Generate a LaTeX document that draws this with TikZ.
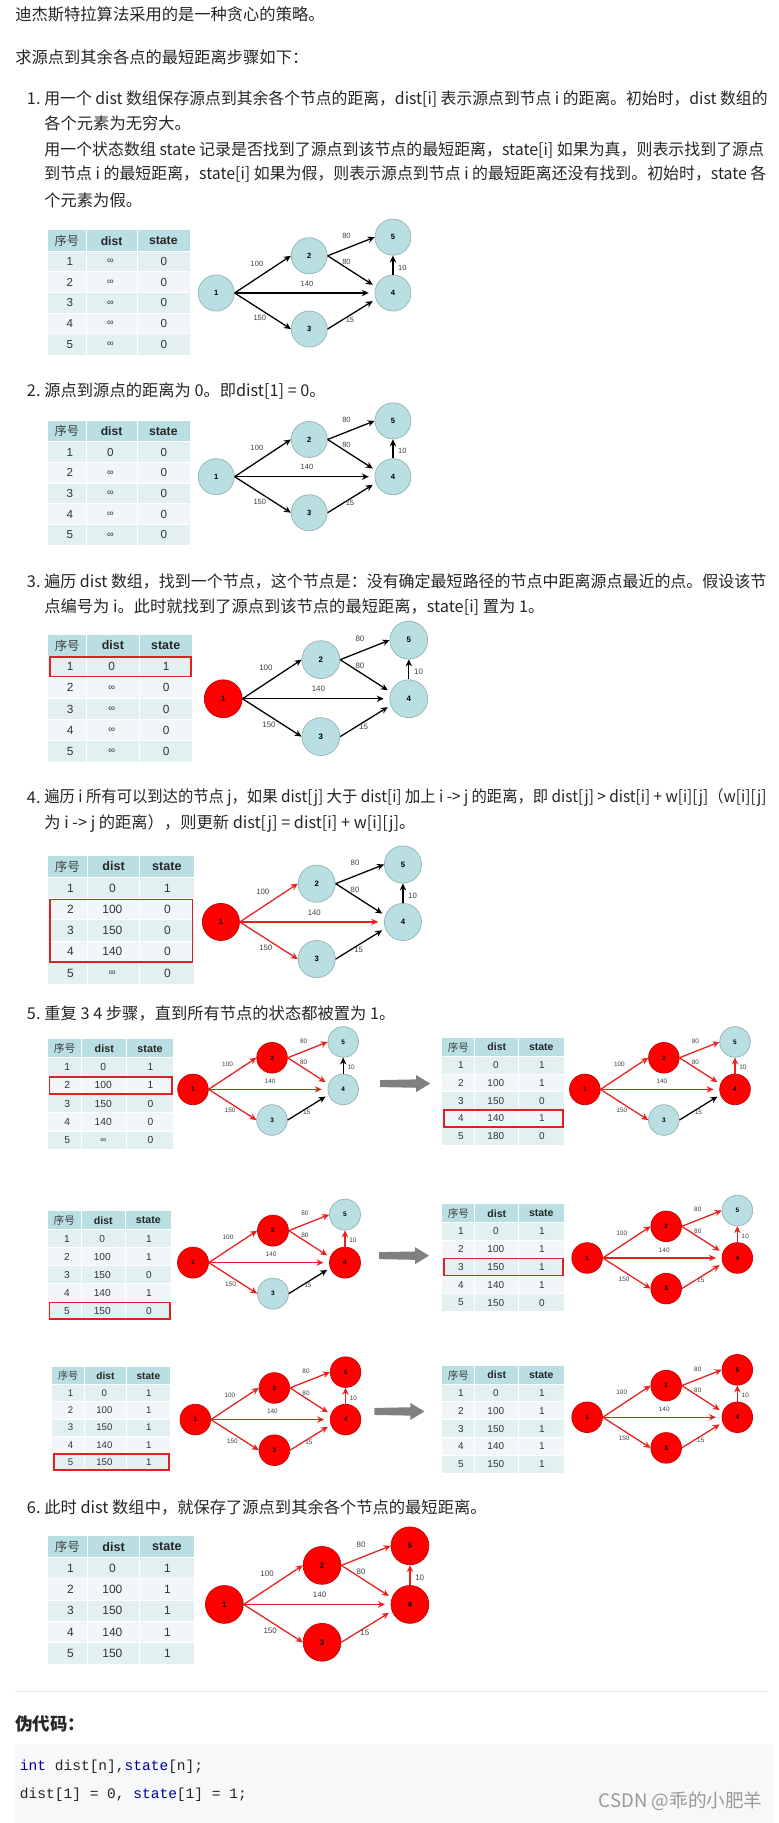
\documentclass[tikz,border=0pt]{standalone}
\usepackage{fontspec}
\usepackage{graphicx}
\newfontfamily\cjk{Noto Sans CJK SC}
\newfontfamily\arial{Liberation Sans}
\newfontfamily\mono{Liberation Mono}
\usetikzlibrary{arrows.meta,calc}

\definecolor{vopen}{HTML}{B9DFE2}
\definecolor{vdone}{HTML}{FF0000}
\definecolor{ered}{HTML}{E8201E}
\definecolor{hdr}{HTML}{BADFE3}
\definecolor{rowa}{HTML}{E3F0F2}
\definecolor{rowb}{HTML}{F1F7F8}
\definecolor{boxred}{HTML}{DD2222}
\definecolor{codebg}{HTML}{F6F8FA}
\definecolor{kw}{HTML}{0000A0}

\tikzset{
  txt/.style={anchor=west, inner sep=0pt, font=\cjk\fontsize{14}{16}\selectfont, text=black!85},
  vtx/.style={circle, minimum size=31pt, inner sep=0pt, line width=.6pt,
    font=\arial\bfseries\fontsize{6.5}{7}\selectfont},
  wedge/.style={line width=1.1pt, -{Stealth[length=6pt,width=5.5pt]}},
  elbl/.style={inner sep=0pt, font=\arial\fontsize{6.5}{7}\selectfont, text=black!75},
  thd/.style={inner sep=0pt, font=\cjk\fontsize{10.5}{12}\selectfont, text=black!75},
  thb/.style={inner sep=0pt, font=\arial\bfseries\fontsize{10.5}{12}\selectfont, text=black!85},
  tcell/.style={inner sep=0pt, font=\arial\fontsize{10}{12}\selectfont, text=black!80},
}

% squeeze a long line to the width it has in the article
\newcommand{\fitline}[2]{\resizebox{#1pt}{\height}{#2}}

% node and edge colours for each step
\newcommand{\setstage}[1]{%
  \ifnum#1<1 \def\fA{vopen}\else\def\fA{vdone}\fi
  \ifnum#1<3 \def\fB{vopen}\else\def\fB{vdone}\fi
  \ifnum#1<5 \def\fC{vopen}\else\def\fC{vdone}\fi
  \ifnum#1<4 \def\fD{vopen}\else\def\fD{vdone}\fi
  \ifnum#1<6 \def\fE{vopen}\else\def\fE{vdone}\fi
  \ifnum#1<2 \def\eA{black}\else\def\eA{ered}\fi
  \ifnum#1<3 \def\eB{black}\else\def\eB{ered}\fi
  \ifnum#1<5 \def\eC{black}\else\def\eC{ered}\fi
  \ifnum#1<4 \def\eD{black}\else\def\eD{ered}\fi}

% graph: name, centre of node 1, scale, step
\newcommand{\dgraph}[4]{%
  \setstage{#4}
  \begin{scope}[shift={#2}, scale=#3, transform shape]
    \node[vtx, fill=\fA, draw=\fA!80!black] (#1-1) at (0,0) {1};
    \node[vtx, fill=\fB, draw=\fB!80!black] (#1-2) at (80,-32) {2};
    \node[vtx, fill=\fC, draw=\fC!80!black] (#1-3) at (80,31) {3};
    \node[vtx, fill=\fD, draw=\fD!80!black] (#1-4) at (152,0) {4};
    \node[vtx, fill=\fE, draw=\fE!80!black] (#1-5) at (152,-48) {5};
    \draw[wedge, draw=\eA] (#1-1.east) -- (#1-2.west);
    \draw[wedge, draw=\eA, shorten >=5pt] (#1-1.east) -- (#1-4.west);
    \draw[wedge, draw=\eA] (#1-1.east) -- (#1-3.west);
    \draw[wedge, draw=\eB] (#1-2.east) -- (#1-5.west);
    \draw[wedge, draw=\eB, shorten >=3pt] (#1-2.east) -- (#1-4.160);
    \draw[wedge, draw=\eC, shorten >=3pt] (#1-3.east) -- (#1-4.200);
    \draw[wedge, draw=\eD] (#1-4.north) -- (#1-5.south);
    \node[elbl] (#1-w12) at (35,-25) {100};
    \node[elbl] (#1-w14) at (78,-8) {140};
    \node[elbl] (#1-w13) at (37.5,21.5) {150};
    \node[elbl] (#1-w25) at (112,-49) {80};
    \node[elbl] (#1-w24) at (112,-27) {80};
    \node[elbl] (#1-w34) at (115,23) {15};
    \node[elbl] (#1-w45) at (160,-22) {10};
  \end{scope}}

% table: name, top left, scale, rows, first and last boxed row
\newcommand{\dtable}[6]{%
  \begin{scope}[shift={#2}, scale=#3, transform shape]
    \fill[hdr] (0,0) rectangle (122,18);
    \node[thd] (#1-h1) at (16.5,9) {序号};
    \node[thb] (#1-h2) at (55,9) {dist};
    \node[thb] (#1-h3) at (99.5,9) {state};
    \foreach \n/\d/\s [count=\r] in {#4} {
      \pgfmathsetmacro\yt{18+(\r-1)*17.8}
      \ifodd\r\relax \def\rc{rowa}\else\def\rc{rowb}\fi
      \fill[fill=\rc] (0,\yt) rectangle (122,{\yt+17.8});
      \node[tcell] (#1-\r a) at (19,{\yt+8.9}) {\n};
      \node[tcell] (#1-\r b) at (54,{\yt+8.9}) {\d};
      \node[tcell] (#1-\r c) at (100,{\yt+8.9}) {\s};
    }
    \draw[white, line width=.8pt] (33,0) -- (33,107) (77,0) -- (77,107);
    \foreach \k in {1,...,5}
      \draw[white, line width=.8pt] (0,{18+(\k-1)*17.8}) -- (122,{18+(\k-1)*17.8});
    \ifnum#5>0
      \draw[boxred, line width=1.3pt] (2,{18+(#5-1)*17.8+.6}) rectangle (121,{18+#6*17.8-.6});
    \fi
  \end{scope}}

% grey arrow between two steps
\newcommand{\bigarrow}[2]{%
  \fill[black!50] ($(#1,#2)+(0,-3)$) -- ++(31,-.6) -- ++(0,-3.7) -- ++(12,7.3)
    -- ++(-12,7.3) -- ++(0,-3.7) -- ++(-31,-.6) -- cycle;}

\newcommand{\infsym}{{\fontsize{8}{9}\selectfont ∞}}

\begin{document}
\begin{tikzpicture}[x=1pt, y=-1pt]
\useasboundingbox[fill=white] (0,0) rectangle (670,1568);

% text
\node[txt] (t1) at (13,12) {迪杰斯特拉算法采用的是一种贪心的策略。};
\node[txt] (t2) at (13,49) {求源点到其余各点的最短距离步骤如下：};
\node[txt] (k1) at (23,85) {1.};
\node[txt] (s1a) at (38,85) {\fitline{622}{用一个 dist 数组保存源点到其余各个节点的距离，dist[i] 表示源点到节点 i 的距离。初始时，dist 数组的}};
\node[txt] (s1b) at (38,106) {各个元素为无穷大。};
\node[txt] (s1c) at (38,129) {\fitline{619}{用一个状态数组 state 记录是否找到了源点到该节点的最短距离，state[i] 如果为真，则表示找到了源点}};
\node[txt] (s1d) at (38,150) {\fitline{621}{到节点 i 的最短距离，state[i] 如果为假，则表示源点到节点 i 的最短距离还没有找到。初始时，state 各}};
\node[txt] (s1e) at (38,172) {个元素为假。};
\node[txt] (k2) at (23,336) {2.};
\node[txt] (s2) at (38,336) {源点到源点的距离为 0。即dist[1] = 0。};
\node[txt] (k3) at (23,500) {3.};
\node[txt] (s3a) at (38,500) {\fitline{621}{遍历 dist 数组，找到一个节点，这个节点是：没有确定最短路径的节点中距离源点最近的点。假设该节}};
\node[txt] (s3b) at (38,522) {点编号为 i。此时就找到了源点到该节点的最短距离，state[i] 置为 1。};
\node[txt] (k4) at (23,686) {4.};
\node[txt] (s4a) at (38,686) {\fitline{621}{遍历 i 所有可以到达的节点 j，如果 dist[j] 大于 dist[i] 加上 i -> j 的距离，即 dist[j] > dist[i] + w[i][j]（w[i][j]}};
\node[txt] (s4b) at (38,708) {为 i -> j 的距离），则更新 dist[j] = dist[i] + w[i][j]。};
\node[txt] (k5) at (23,872) {5.};
\node[txt] (s5) at (38,872) {重复 3 4 步骤，直到所有节点的状态都被置为 1。};
\node[txt] (k6) at (23,1297) {6.};
\node[txt] (s6) at (38,1297) {此时 dist 数组中，就保存了源点到其余各个节点的最短距离。};

% tables and graphs
\dtable{ta}{(41,198)}{1}{1/\infsym/0,2/\infsym/0,3/\infsym/0,4/\infsym/0,5/\infsym/0}{0}{0}
\dgraph{ga}{(186,252)}{1}{0}
\dtable{tb}{(41,362)}{1}{1/0/0,2/\infsym/0,3/\infsym/0,4/\infsym/0,5/\infsym/0}{0}{0}
\dgraph{gb}{(186,410)}{1}{0}
\dtable{tc}{(41,546)}{1.02}{1/0/1,2/\infsym/0,3/\infsym/0,4/\infsym/0,5/\infsym/0}{1}{1}
\dgraph{gc}{(192,601)}{1.05}{1}
\dtable{td}{(41,736)}{1.03}{1/0/1,2/100/0,3/150/0,4/140/0,5/\infsym/0}{2}{4}
\dgraph{gd}{(190,793)}{1.03}{2}

\dtable{te}{(41,894)}{.885}{1/0/1,2/100/1,3/150/0,4/140/0,5/\infsym/0}{2}{2}
\dgraph{ge}{(166,937)}{.85}{3}
\bigarrow{327}{932}
\dtable{tf}{(380,893)}{.86}{1/0/1,2/100/1,3/150/0,4/140/1,5/180/0}{4}{4}
\dgraph{gf}{(503,937)}{.85}{4}

\dtable{tg}{(41,1042)}{.87}{1/0/1,2/100/1,3/150/0,4/140/1,5/150/0}{5}{5}
\dgraph{gg}{(166,1086)}{.86}{4}
\bigarrow{326}{1080}
\dtable{th}{(380,1036)}{.86}{1/0/1,2/100/1,3/150/1,4/140/1,5/150/0}{3}{3}
\dgraph{gh}{(505,1082)}{.85}{5}

\dtable{ti}{(45,1176)}{.83}{1/0/1,2/100/1,3/150/1,4/140/1,5/150/1}{5}{5}
\dgraph{gi}{(168,1221)}{.85}{6}
\bigarrow{322}{1214}
\dtable{tj}{(380,1175)}{.86}{1/0/1,2/100/1,3/150/1,4/140/1,5/150/1}{0}{0}
\dgraph{gj}{(505,1219)}{.85}{6}

\dtable{tk}{(41,1321)}{1.03}{1/0/1,2/100/1,3/150/1,4/140/1,5/150/1}{0}{0}
\dgraph{gk}{(193,1380)}{1.05}{6}

% pseudo code
\draw[black!10, line width=.8pt] (13,1455) -- (660,1455);
\node[txt, font=\cjk\bfseries\fontsize{15}{17}\selectfont] (pc) at (13,1483) {伪代码：};
\fill[codebg] (13,1500) rectangle (665,1568);
\node[txt, font=\mono\fontsize{12.5}{14}\selectfont] (c1) at (17,1520)
  {\textcolor{kw}{int} dist[n],\textcolor{kw}{state}[n];};
\node[txt, font=\mono\fontsize{12.5}{14}\selectfont] (c2) at (17,1544)
  {dist[1] = 0, \textcolor{kw}{state}[1] = 1;};
\node[anchor=east, inner sep=0pt, font=\cjk\fontsize{16}{18}\selectfont, text=black!40] (wm) at (656,1549) {CSDN @乖的小肥羊};
\end{tikzpicture}
\end{document}
